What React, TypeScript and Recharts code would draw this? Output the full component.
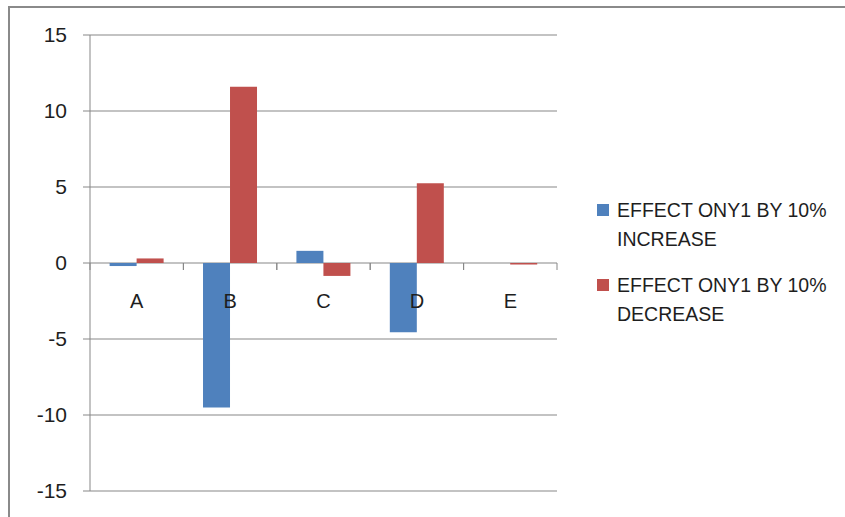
import React from "react";
import {
  Bar,
  BarChart,
  CartesianGrid,
  Legend,
  XAxis,
  YAxis,
} from "recharts";

const categories = ["A", "B", "C", "D", "E"];
const increaseValues = [-0.2, -9.5, 0.8, -4.55, 0];
const decreaseValues = [0.3, 11.6, -0.85, 5.25, -0.1];
const yTicks = [-15, -10, -5, 0, 5, 10, 15];

const SERIES = [
  { key: "increase", name: "EFFECT ONY1 BY 10% INCREASE", color: "#4F81BD" },
  { key: "decrease", name: "EFFECT ONY1 BY 10% DECREASE", color: "#C0504D" },
];

const data = categories.map((c, i) => ({
  name: c,
  increase: increaseValues[i],
  decrease: decreaseValues[i],
}));

const W = 845;
const H = 517;
const PLOT_LEFT = 90;
const PLOT_RIGHT = 557;
const PLOT_TOP = 35;
const PLOT_BOTTOM = 491;
const X_AXIS_H = H - PLOT_BOTTOM;
const Y_MIN = yTicks[0];
const Y_MAX = yTicks[yTicks.length - 1];
const ZERO_Y = PLOT_TOP + ((PLOT_BOTTOM - PLOT_TOP) * Y_MAX) / (Y_MAX - Y_MIN);
const BAND = (PLOT_RIGHT - PLOT_LEFT) / categories.length;

const FONT = "'Liberation Sans', Arial, sans-serif";
const GRID = "#878787";
const TEXT = "#1e1e1e";

// category labels and between-category ticks hang off the zero line
function CategoryTick(props: any) {
  const { x, payload } = props;
  return (
    <g>
      <line x1={x - BAND / 2} x2={x - BAND / 2} y1={ZERO_Y} y2={ZERO_Y + 7} stroke={GRID} />
      <line x1={x + BAND / 2} x2={x + BAND / 2} y1={ZERO_Y} y2={ZERO_Y + 7} stroke={GRID} />
      <text
        x={x}
        y={ZERO_Y + 45}
        textAnchor="middle"
        fontFamily={FONT}
        fontSize={20}
        fill={TEXT}
      >
        {payload.value}
      </text>
    </g>
  );
}

function LegendContent() {
  return (
    <div style={{ fontFamily: FONT, fontSize: 19.5, color: TEXT }}>
      {SERIES.map((s) => (
        <div
          key={s.key}
          style={{ display: "flex", alignItems: "flex-start", marginBottom: 17, lineHeight: "29px" }}
        >
          <span
            style={{
              width: 12,
              height: 12,
              background: s.color,
              marginTop: 8,
              marginRight: 8,
              flexShrink: 0,
            }}
          />
          <span style={{ width: 218 }}>{s.name}</span>
        </div>
      ))}
    </div>
  );
}

export default function App() {
  return (
    <div style={{ position: "absolute", left: 0, top: 0, width: W, height: H, background: "#fff", overflow: "hidden" }}>
      <div
        style={{
          position: "absolute",
          left: 8,
          top: 6,
          width: W,
          height: H,
          borderLeft: "2px solid #8a8a8a",
          borderTop: "2px solid #8a8a8a",
        }}
      />
      <BarChart
        width={W}
        height={H}
        data={data}
        margin={{ top: PLOT_TOP, right: W - PLOT_RIGHT, bottom: 0, left: 8 }}
        barCategoryGap="21%"
        barGap={0}
        style={{ position: "absolute", left: 0, top: 0 }}
      >
        <CartesianGrid vertical={false} stroke={GRID} strokeWidth={1} />
        <XAxis
          dataKey="name"
          height={X_AXIS_H}
          axisLine={false}
          tickLine={false}
          tick={<CategoryTick />}
          interval={0}
        />
        <YAxis
          width={PLOT_LEFT - 8}
          domain={[Y_MIN, Y_MAX]}
          ticks={yTicks}
          interval={0}
          axisLine={{ stroke: GRID }}
          tickLine={{ stroke: GRID }}
          tickSize={7}
          tickMargin={16}
          tick={{ fontFamily: FONT, fontSize: 21, fill: TEXT }}
        />
        <Legend
          layout="vertical"
          align="center"
          verticalAlign="middle"
          content={<LegendContent />}
          wrapperStyle={{ left: 597, top: 196, width: 245 }}
        />
        {SERIES.map((s) => (
          <Bar
            key={s.key}
            dataKey={s.key}
            name={s.name}
            fill={s.color}
            isAnimationActive={false}
          />
        ))}
      </BarChart>
    </div>
  );
}
